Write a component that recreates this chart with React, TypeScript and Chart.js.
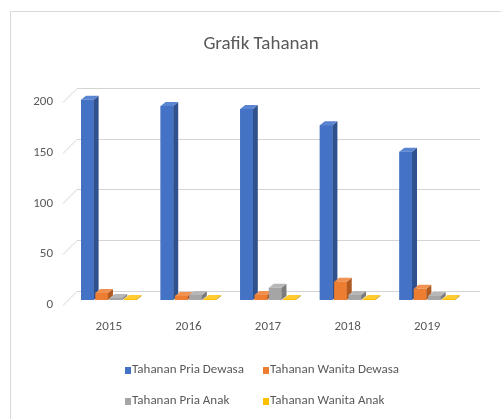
import React, { useEffect, useRef } from 'react';
import { Chart, registerables } from 'chart.js';

Chart.register(...registerables);

const years = ['2015', '2016', '2017', '2018', '2019'];
const priaDewasa = [197, 191, 188, 172, 146];
const wanitaDewasa = [7, 4, 5, 18, 11];
const priaAnak = [2, 5, 12, 5, 4];
const wanitaAnak = [1, 1, 1, 1, 1];
const seriesNames = ['Tahanan Pria Dewasa', 'Tahanan Wanita Dewasa', 'Tahanan Pria Anak', 'Tahanan Wanita Anak'];
const yTicks = [0, 50, 100, 150, 200];

const FONT = "Carlito, 'Liberation Sans Narrow', 'Open Sans', sans-serif";
const TEXT = '#595959';
const frontCol = ['#4472C4', '#ED7D31', '#A5A5A5', '#FFC000'];
const sideCol = ['#2F528F', '#AE5A21', '#7C7C7C', '#BC8C00'];
const topCol = ['#5B85D0', '#F09150', '#B7B7B7', '#FFCB33'];

const DX = 5;
const DY = 4;

const backWallPlugin = {
  id: 'backWall',
  beforeDatasetsDraw(chart: any) {
    const { ctx, chartArea, scales } = chart;
    const y = scales.y;
    ctx.save();
    ctx.strokeStyle = '#d4d4d4';
    ctx.lineWidth = 1;
    yTicks.forEach((v) => {
      const py = Math.round(y.getPixelForValue(v)) + 0.5;
      ctx.beginPath();
      ctx.moveTo(chartArea.left + 8, py - 9);
      ctx.lineTo(chartArea.right + 13, py - 9);
      ctx.stroke();
      ctx.beginPath();
      ctx.moveTo(chartArea.left - 6, py + 5);
      ctx.lineTo(chartArea.left + 8, py - 9);
      ctx.stroke();
    });
    ctx.restore();
  },
};

const bar3dPlugin = {
  id: 'bar3d',
  afterDatasetsDraw(chart: any) {
    const { ctx } = chart;
    ctx.save();
    chart.data.datasets.forEach((_ds: any, di: number) => {
      const meta = chart.getDatasetMeta(di);
      meta.data.forEach((bar: any) => {
        const { x, y, base, width } = bar.getProps(['x', 'y', 'base', 'width'], true);
        const x0 = x - width / 2;
        const x1 = x + width / 2;
        ctx.fillStyle = frontCol[di];
        ctx.fillRect(x0, y, width, base - y);
        ctx.fillStyle = sideCol[di];
        ctx.beginPath();
        ctx.moveTo(x1, y);
        ctx.lineTo(x1 + DX, y - DY);
        ctx.lineTo(x1 + DX, base - DY);
        ctx.lineTo(x1, base);
        ctx.closePath();
        ctx.fill();
        ctx.fillStyle = topCol[di];
        ctx.beginPath();
        ctx.moveTo(x0, y);
        ctx.lineTo(x1, y);
        ctx.lineTo(x1 + DX, y - DY);
        ctx.lineTo(x0 + DX, y - DY);
        ctx.closePath();
        ctx.fill();
      });
    });
    ctx.restore();
  },
};

const legendPlugin = {
  id: 'gridLegend',
  afterDraw(chart: any) {
    const { ctx } = chart;
    const cols = [114, 252];
    const rows = [358, 389];
    ctx.save();
    ctx.font = `13px ${FONT}`;
    ctx.textBaseline = 'middle';
    ctx.textAlign = 'left';
    chart.data.datasets.forEach((ds: any, i: number) => {
      const x = cols[i % 2];
      const cy = rows[Math.floor(i / 2)];
      ctx.fillStyle = frontCol[i];
      ctx.fillRect(x, cy - 3, 6, 7);
      ctx.fillStyle = TEXT;
      ctx.fillText(ds.label, x + 7, cy);
    });
    ctx.restore();
  },
};

export default function App() {
  const ref = useRef<HTMLCanvasElement>(null);
  useEffect(() => {
    if (!ref.current) return;
    const seriesData = [priaDewasa, wanitaDewasa, priaAnak, wanitaAnak];
    const chart = new Chart(ref.current, {
      type: 'bar',
      data: {
        labels: years,
        datasets: seriesData.map((d, i) => ({
          label: seriesNames[i],
          data: d,
          backgroundColor: frontCol[i],
          borderWidth: 0,
          yAxisID: 'y',
        })),
      },
      options: {
        animation: false,
        responsive: false,
        layout: { padding: { left: 0, right: 0, top: 0, bottom: 88 } },
        datasets: { bar: { categoryPercentage: 0.72, barPercentage: 0.88 } } as any,
        plugins: {
          legend: { display: false },
          tooltip: { enabled: false },
          title: {
            display: true,
            text: 'Grafik Tahanan',
            color: TEXT,
            font: { family: FONT, size: 19, weight: 'normal' },
            padding: { top: 21, bottom: 41 },
          },
        },
        scales: {
          x: {
            grid: { display: false, drawTicks: false },
            border: { display: false },
            ticks: { color: TEXT, font: { family: FONT, size: 13 }, padding: 19 },
            afterFit: (s: any) => { s.height = 34; },
          },
          y: {
            min: 0,
            max: 200,
            ticks: { stepSize: 50, color: TEXT, font: { family: FONT, size: 13 }, padding: 16, labelOffset: 5 } as any,
            grid: { display: false, drawTicks: false },
            border: { display: false },
            afterFit: (s: any) => { s.width = 58; },
          },
          yRight: {
            type: 'linear',
            position: 'right',
            display: true,
            ticks: { display: false },
            grid: { display: false, drawTicks: false },
            border: { display: false },
            afterFit: (s: any) => { s.width = 44; },
          },
        },
      } as any,
      plugins: [backWallPlugin, bar3dPlugin, legendPlugin],
    });
    return () => chart.destroy();
  }, []);

  return (
    <div style={{ position: 'fixed', left: 0, top: 0, width: 501, height: 419, overflow: 'hidden', background: '#fff' }}>
      <div style={{ position: 'absolute', left: 10, top: 11, width: 520, height: 420, border: '1px solid #d9d9d9', boxSizing: 'border-box' }}>
        <canvas ref={ref} width={500} height={410} style={{ position: 'absolute', left: 0, top: 0, width: 500, height: 410 }} />
      </div>
    </div>
  );
}
